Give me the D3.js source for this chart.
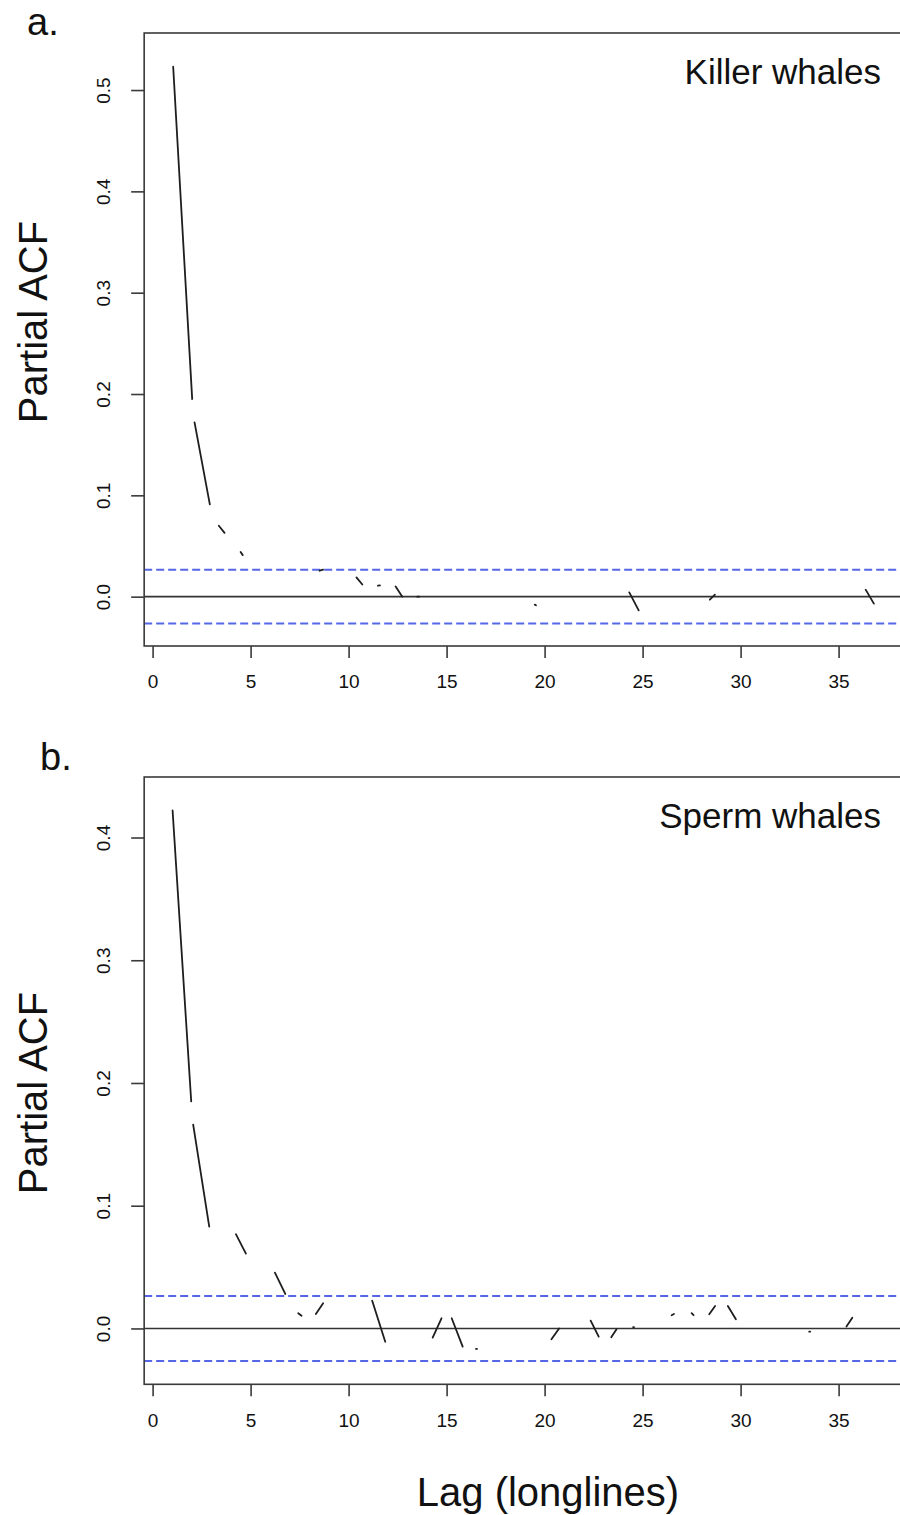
<!DOCTYPE html>
<html>
<head>
<meta charset="utf-8">
<script src="https://cdn.jsdelivr.net/npm/d3@7"></script>
<style>
  html, body { margin: 0; padding: 0; background: #fff; }
  svg { display: block; font-family: "Liberation Sans", Arial, sans-serif; }
</style>
</head>
<body>
<svg id="chart" width="900" height="1515"></svg>
<script>
// ---------- data ----------
const xTicks = [0, 5, 10, 15, 20, 25, 30, 35];
const yTicksKiller = [0.0, 0.1, 0.2, 0.3, 0.4, 0.5];
const yTicksSperm = [0.0, 0.1, 0.2, 0.3, 0.4];
const confBound = 0.0265;
const panelLabels = ["a.", "b."];
const panelTitles = ["Killer whales", "Sperm whales"];
const yLabel = "Partial ACF";
const xLabel = "Lag (longlines)";

// visible pieces of the (dashed) PACF line: [lagStart, pacfStart, lagEnd, pacfEnd]
const killerSegments = [
  [1.05, 0.523, 2.02, 0.195],
  [2.14, 0.172, 2.92, 0.091],
  [3.38, 0.070, 3.67, 0.063],
  [4.49, 0.044, 4.60, 0.041],
  [8.52, 0.0256, 8.70, 0.0266],
  [10.40, 0.019, 10.70, 0.012],
  [11.50, 0.0108, 11.60, 0.0112],
  [12.40, 0.010, 12.74, 0.0],
  [13.50, 0.0, 13.60, 0.0],
  [19.50, -0.0079, 19.56, -0.0085],
  [24.32, 0.0042, 24.80, -0.0135],
  [28.43, -0.003, 28.69, 0.002],
  [36.38, 0.0069, 36.80, -0.0069]
];
const spermSegments = [
  [1.02, 0.422, 1.97, 0.185],
  [2.07, 0.166, 2.89, 0.083],
  [4.25, 0.0768, 4.76, 0.061],
  [6.24, 0.0455, 6.77, 0.0281],
  [7.43, 0.0124, 7.60, 0.0104],
  [8.33, 0.0118, 8.70, 0.0205],
  [11.20, 0.0227, 11.87, -0.0108],
  [14.29, -0.0075, 14.74, 0.0083],
  [15.26, 0.0083, 15.82, -0.0148],
  [16.50, -0.0167, 16.55, -0.0167],
  [20.35, -0.0088, 20.74, 0.0],
  [22.35, 0.0064, 22.76, -0.0067],
  [23.40, -0.0072, 23.67, -0.0007],
  [24.52, 0.001, 24.56, 0.001],
  [26.48, 0.0108, 26.60, 0.0118],
  [27.50, 0.0124, 27.60, 0.0108],
  [28.40, 0.0116, 28.70, 0.0183],
  [29.35, 0.0183, 29.76, 0.0075],
  [33.50, -0.0026, 33.55, -0.0026],
  [35.40, 0.0015, 35.70, 0.0088]
];

// ---------- layout ----------
const svg = d3.select("#chart");
const x = d3.scaleLinear().domain([0, 35]).range([152.6, 838.6]);
const xMin = -0.43, xMax = 38.5;

const panels = [
  { segs: killerSegments, ticks: yTicksKiller, yDom: [-0.0487, 0.5563], yRange: [646, 33],
    label: panelLabels[0], labelPos: [27, 35], title: panelTitles[0], titleY: 84, yLabCenter: 322 },
  { segs: spermSegments, ticks: yTicksSperm, yDom: [-0.0455, 0.4493], yRange: [1384.3, 777],
    label: panelLabels[1], labelPos: [40, 770], title: panelTitles[1], titleY: 828, yLabCenter: 1093 }
];

const lineColor = "#3a3a3a";

panels.forEach(p => {
  const y = d3.scaleLinear().domain(p.yDom).range(p.yRange);
  const g = svg.append("g");
  const left = x(xMin), right = x(xMax);
  const top = y(p.yDom[1]), bottom = y(p.yDom[0]);

  // confidence bounds
  [confBound, -confBound].forEach(c => {
    g.append("line")
      .attr("x1", left).attr("x2", right)
      .attr("y1", y(c)).attr("y2", y(c))
      .attr("stroke", "#5566e6").attr("stroke-width", 2)
      .attr("stroke-dasharray", "8,4");
  });
  // zero line
  g.append("line")
    .attr("x1", left).attr("x2", right)
    .attr("y1", y(0)).attr("y2", y(0))
    .attr("stroke", "#333").attr("stroke-width", 1.6);

  // PACF line pieces
  g.selectAll("line.seg").data(p.segs).enter().append("line")
    .attr("class", "seg")
    .attr("x1", d => x(d[0])).attr("y1", d => y(d[1]))
    .attr("x2", d => x(d[2])).attr("y2", d => y(d[3]))
    .attr("stroke", "#1e1e1e").attr("stroke-width", 1.8)
    .attr("stroke-linecap", "round");

  // box
  g.append("rect")
    .attr("x", left).attr("y", top)
    .attr("width", right - left).attr("height", bottom - top)
    .attr("fill", "none").attr("stroke", lineColor).attr("stroke-width", 1.6);

  // x axis
  const xAxis = d3.axisBottom(x).tickValues(xTicks).tickSize(12).tickPadding(17)
    .tickFormat(d3.format("d"));
  const xg = g.append("g").attr("transform", `translate(0,${bottom})`).call(xAxis);
  xg.select(".domain").remove();
  xg.selectAll(".tick line").attr("stroke", lineColor).attr("stroke-width", 1.6);
  xg.selectAll(".tick text").attr("font-size", 19).attr("fill", "#111")
    .attr("font-family", "Liberation Sans, Arial, sans-serif");

  // y axis
  const yAxis = d3.axisLeft(y).tickValues(p.ticks).tickSize(13).tickPadding(0)
    .tickFormat(d3.format(".1f"));
  const yg = g.append("g").attr("transform", `translate(${left},0)`).call(yAxis);
  yg.select(".domain").remove();
  yg.selectAll(".tick line").attr("stroke", lineColor).attr("stroke-width", 1.6);
  yg.selectAll(".tick text")
    .attr("font-size", 19).attr("fill", "#111")
    .attr("font-family", "Liberation Sans, Arial, sans-serif")
    .attr("x", null).attr("dy", null)
    .attr("text-anchor", "middle")
    .attr("transform", "translate(-34,0) rotate(-90)")
    .attr("y", 0);

  // y label
  g.append("text")
    .attr("transform", `translate(47,${p.yLabCenter}) rotate(-90)`)
    .attr("text-anchor", "middle")
    .attr("font-size", 40).attr("fill", "#111")
    .text(yLabel);

  // panel label
  g.append("text")
    .attr("x", p.labelPos[0]).attr("y", p.labelPos[1])
    .attr("font-size", 38).attr("fill", "#111")
    .text(p.label);

  // title inside plot
  g.append("text")
    .attr("x", 881).attr("y", p.titleY)
    .attr("text-anchor", "end")
    .attr("font-size", 35).attr("fill", "#111")
    .text(p.title);
});

// x label
svg.append("text")
  .attr("x", 548).attr("y", 1506)
  .attr("text-anchor", "middle")
  .attr("font-size", 40).attr("fill", "#111")
  .text(xLabel);
</script>
</body>
</html>
